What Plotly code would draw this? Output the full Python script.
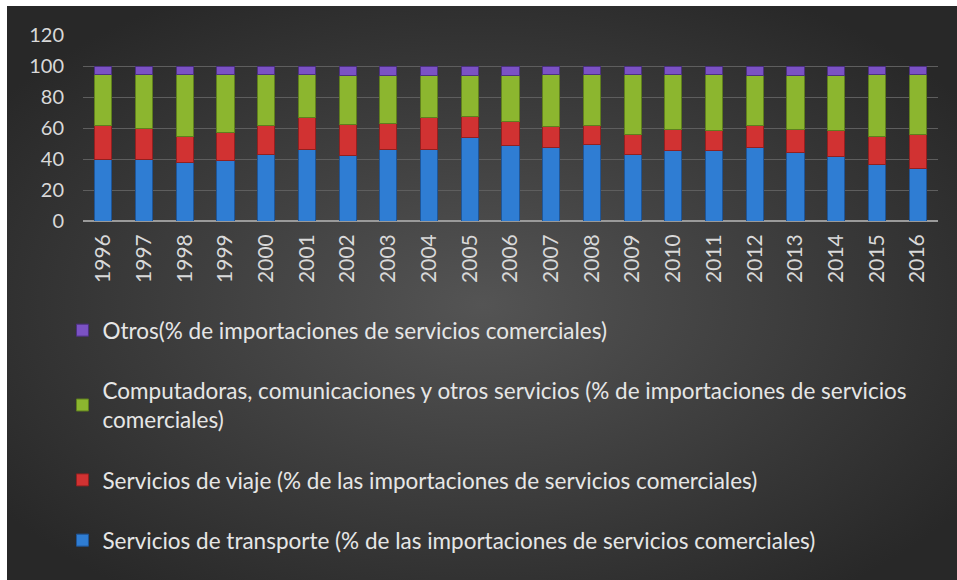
import base64

import plotly.graph_objects as go

years = [str(y) for y in range(1996, 2017)]

# shares of commercial services imports (%)
transporte = [39.8, 39.8, 37.8, 38.9, 43.0, 46.2, 42.4, 46.2, 46.2, 53.8, 48.6,
              47.1, 49.5, 42.8, 45.4, 45.4, 47.1, 44.5, 41.5, 36.6, 34.0]
viaje = [22.1, 20.0, 17.0, 18.3, 18.3, 20.9, 20.0, 17.0, 20.3, 13.9, 15.5,
         13.8, 11.8, 13.3, 13.7, 12.7, 14.2, 14.6, 16.6, 18.2, 22.1]
computadoras = [32.7, 34.8, 39.8, 37.4, 33.3, 27.1, 31.4, 30.6, 27.3, 26.1, 29.7,
                33.3, 32.9, 38.1, 35.1, 36.1, 32.5, 34.7, 35.7, 39.8, 38.5]
otros = [5.4, 5.4, 5.4, 5.4, 5.4, 5.8, 6.2, 6.2, 6.2, 6.2, 6.2,
         5.8, 5.8, 5.8, 5.8, 5.8, 6.2, 6.2, 6.2, 5.4, 5.4]

names = [
    "Servicios de transporte (% de las importaciones de servicios comerciales)",
    "Servicios de viaje (% de las importaciones de servicios comerciales)",
    "Computadoras, comunicaciones y otros servicios (% de importaciones de servicios<br>comerciales)",
    "Otros(% de importaciones de servicios comerciales)",
]
colors = ["#2f7dd3", "#d13232", "#8cb62f", "#7b52c4"]
edges = ["#1f5596", "#922020", "#5f7f1e", "#4d3182"]

W, H = 957, 580
L, R, T, B = 83, 19, 35, 359
pw, ph = W - L - R, H - T - B

# dark radial background like the Excel chart style, with the thin white margin
svg = f"""<svg xmlns='http://www.w3.org/2000/svg' width='{W - 7}' height='{H - 6}' viewBox='0 0 {W - 7} {H - 6}' preserveAspectRatio='none'>
<defs><radialGradient id='g' cx='50%' cy='52%' r='62%'>
<stop offset='0%' stop-color='#545454'/><stop offset='100%' stop-color='#282828'/>
</radialGradient></defs>
<rect width='100%' height='100%' fill='url(#g)'/></svg>"""
bg_uri = "data:image/svg+xml;base64," + base64.b64encode(svg.encode()).decode()

fig = go.Figure()
for i, (vals, name, col, edge) in enumerate(zip([transporte, viaje, computadoras, otros], names, colors, edges)):
    fig.add_trace(
        go.Bar(
            x=years,
            y=vals,
            name=name,
            legendgroup=name,
            legendrank=4 - i,
            marker=dict(color=col, line=dict(color=edge, width=1)),
        )
    )

fig.add_layout_image(
    source=bg_uri,
    xref="paper",
    yref="paper",
    x=(7 - L) / pw,
    y=(H - B - 6) / ph,
    sizex=(W - 7) / pw,
    sizey=(H - 6) / ph,
    xanchor="left",
    yanchor="top",
    sizing="stretch",
    layer="below",
)

fig.update_layout(
    width=W,
    height=H,
    barmode="stack",
    bargap=0.58,
    margin=dict(l=L, r=R, t=T, b=B),
    paper_bgcolor="#ffffff",
    plot_bgcolor="rgba(0,0,0,0)",
    font=dict(family="Lato", size=20, color="#d9d9d9"),
    showlegend=True,
    legend=dict(
        traceorder="grouped",
        orientation="v",
        x=-0.024,
        xanchor="left",
        y=(H - B - 309) / ph,
        yanchor="top",
        tracegroupgap=28,
        bgcolor="rgba(0,0,0,0)",
        font=dict(size=22.5, color="#e6e6e6"),
        itemwidth=30,
    ),
    xaxis=dict(
        type="category",
        tickangle=-90,
        showgrid=False,
        ticks="",
        showline=False,
        tickfont=dict(size=21, color="#d9d9d9"),
        ticklabelstandoff=8,
    ),
    yaxis=dict(
        range=[0, 120],
        dtick=20,
        showgrid=True,
        gridcolor="#5e5e5e",
        gridwidth=1,
        zeroline=True,
        zerolinecolor="#9a9a9a",
        zerolinewidth=2,
        ticks="",
        tickfont=dict(size=20, color="#d9d9d9"),
        ticklabelstandoff=18,
    ),
)

fig.write_html(
    "out.html",
    config={"displayModeBar": False},
    post_script="document.body.style.margin = '0';",
)
